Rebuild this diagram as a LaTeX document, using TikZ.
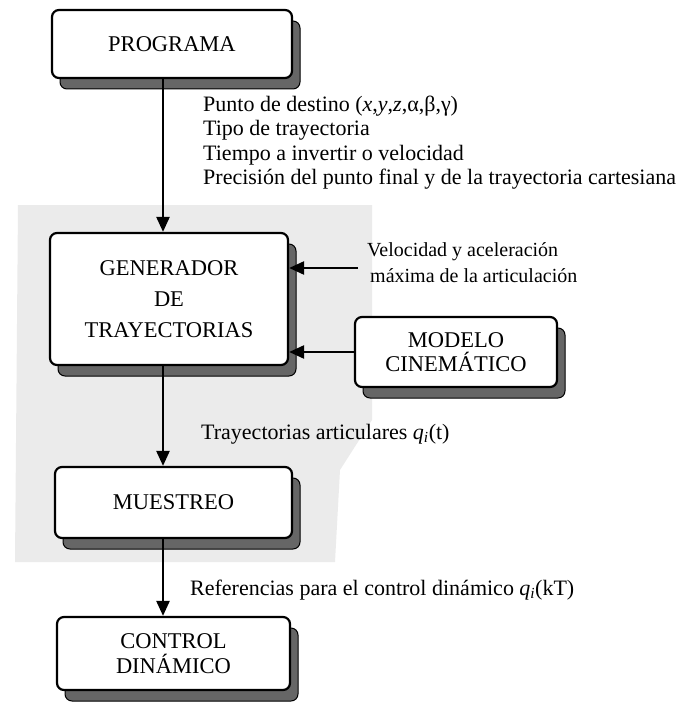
\documentclass[tikz,border=0pt]{standalone}
\usepackage{fontspec}
\setmainfont{Liberation Serif}
\usetikzlibrary{arrows.meta,shadows}
\begin{document}
\begin{tikzpicture}[x=1pt,y=-1pt,
  box/.style={draw=black, line width=2.2pt, rounded corners=7pt, fill=white,
    align=center, inner sep=0pt, font=\fontsize{22.5}{26}\selectfont,
    drop shadow={shadow xshift=8pt, shadow yshift=-11pt, fill=black!60, draw=black, line width=1pt, opacity=1}},
  flow/.style={line width=2.4pt, -{Triangle[length=15pt,width=13pt]}},
  lbl/.style={inner sep=0pt, align=left, font=\fontsize{22}{24.3}\selectfont},
  slbl/.style={inner sep=0pt, align=left, font=\fontsize{20}{26}\selectfont}]
\useasboundingbox (0,0) rectangle (681,706);
% scanned grey background
\fill[black!8] (18,205) -- (372,205) -- (372,420) -- (340,470) -- (335,562) -- (15,562) -- cycle;
\coordinate (ax) at (163,0);
\node[box, minimum width=240pt, minimum height=68pt] (prog) at (172,44) {PROGRAMA};
\node[box, minimum width=238pt, minimum height=132pt, font=\fontsize{22.5}{31}\selectfont] (gen) at (169,299) {GENERADOR\\DE\\TRAYECTORIAS};
\node[box, minimum width=202pt, minimum height=70pt, font=\fontsize{22.5}{23.5}\selectfont] (mod) at (456,352) {MODELO\\CINEMÁTICO};
\node[box, minimum width=237pt, minimum height=71pt] (mue) at (173.5,502.5) {MUESTREO};
\node[box, minimum width=233pt, minimum height=73pt, font=\fontsize{22.5}{25}\selectfont] (ctl) at (173.5,653.5) {CONTROL\\DINÁMICO};
\coordinate (vin) at (358,268);
\draw[flow] (prog.south -| ax) -- (gen.north -| ax);
\draw[flow] (gen.south -| ax) -- (mue.north -| ax);
\draw[flow] (mue.south -| ax) -- (ctl.north -| ax);
\draw[flow] (vin) -- (gen.east |- vin);
\draw[flow] (mod.west) -- (gen.east |- mod.west);
\node[lbl, anchor=north west] (l1) at (203,96) {Punto de destino (\textit{x},\textit{y},\textit{z},α,β,γ)\\Tipo de trayectoria\\Tiempo a invertir o velocidad\\Precisión del punto final y de la trayectoria cartesiana};
\node[slbl, anchor=north west] (l2) at (367,242) {Velocidad y aceleración\\\hspace*{3pt}máxima de la articulación};
\node[lbl, anchor=west] (l3) at (201,434) {Trayectorias articulares \textit{q}\textsubscript{\textit{i}}(t)};
\node[lbl, anchor=west] (l4) at (190,590) {Referencias para el control dinámico \textit{q}\textsubscript{\textit{i}}(kT)};
\end{tikzpicture}
\end{document}
